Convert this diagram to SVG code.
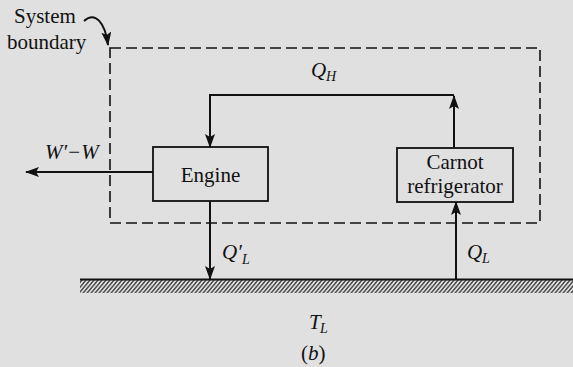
<svg xmlns="http://www.w3.org/2000/svg" width="573" height="367" viewBox="0 0 573 367">
<defs>
<style>
.t{font-family:'Liberation Serif','Times New Roman',serif;font-size:21px;fill:#111}
.i{font-style:italic}
.s{font-size:14px}
.ln{fill:none;stroke:#111;stroke-width:2}
.box{fill:none;stroke:#111;stroke-width:1.8}
</style>
<marker id="ah" viewBox="0 0 14 10" refX="13" refY="5" markerWidth="14" markerHeight="10" markerUnits="userSpaceOnUse" orient="auto">
<path d="M0,0 L14,5 L0,10 L3,5 Z" fill="#111"/>
</marker>
<pattern id="hatch" width="4" height="14" patternUnits="userSpaceOnUse" patternTransform="skewX(-40)">
<rect width="4" height="14" fill="#e0e0e0"/>
<line x1="1" y1="0" x2="1" y2="14" stroke="#222" stroke-width="1.5"/>
</pattern>
</defs>
<rect width="573" height="367" fill="#e0e0e0"/>

<g id="boundary">
<rect x="110" y="48" width="430" height="175" fill="none" stroke="#111" stroke-width="1.6" stroke-dasharray="11,5"/>
<text class="t" x="14" y="23">System</text>
<text class="t" x="7" y="49">boundary</text>
</g>

<g id="reservoir">
<rect x="80" y="280" width="493" height="13" fill="url(#hatch)"/>
<line x1="80" y1="279.5" x2="573" y2="279.5" stroke="#111" stroke-width="2"/>
<text class="t i" x="309" y="329">T</text>
<text class="t i s" x="320" y="333">L</text>
</g>

<g id="engine">
<rect class="box" x="153" y="147" width="115" height="54"/>
<text class="t" x="210.5" y="182" text-anchor="middle">Engine</text>
</g>

<g id="carnot">
<rect class="box" x="397" y="148" width="116" height="54"/>
<text class="t" x="455" y="169" text-anchor="middle">Carnot</text>
<text class="t" x="455" y="193" text-anchor="middle">refrigerator</text>
</g>

<g id="connectors">
<path class="ln" d="M84,21 C95,11 105,22 108,45" marker-end="url(#ah)"/>
<path class="ln" d="M454,148 L454,96" marker-end="url(#ah)"/>
<path class="ln" d="M454,95 L210,95 L210,147" marker-end="url(#ah)"/>
<path class="ln" d="M153,172 L26,172" marker-end="url(#ah)"/>
<path class="ln" d="M210,201 L210,279" marker-end="url(#ah)"/>
<path class="ln" d="M456,279 L456,202" marker-end="url(#ah)"/>
</g>

<g id="labels">
<text class="t i" x="311" y="77">Q</text>
<text class="t i s" x="326" y="81">H</text>
<text class="t i" x="45" y="159">W′−W</text>
<text class="t i" x="222" y="259">Q′</text>
<text class="t i s" x="242" y="264">L</text>
<text class="t i" x="467" y="259">Q</text>
<text class="t i s" x="482" y="263">L</text>
<text class="t" x="301" y="360">(<tspan class="i">b</tspan>)</text>
</g>
</svg>
